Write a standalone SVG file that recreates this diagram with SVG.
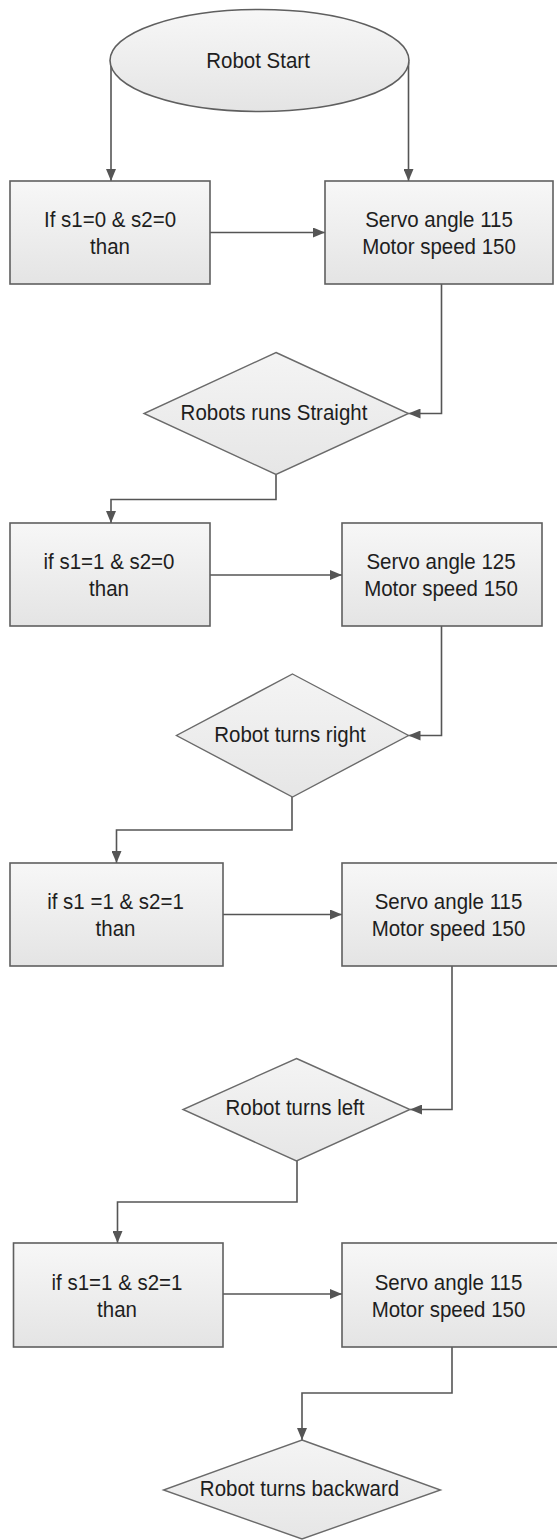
<svg xmlns="http://www.w3.org/2000/svg" width="557" height="1540" viewBox="0 0 557 1540">
<style>
.shape{stroke:#5f5f5f;stroke-width:1.6;fill:url(#g)}
.dia{stroke:#6a6a6a;stroke-width:1.4;fill:url(#gd)}
.t{font-family:"Liberation Sans",Arial,sans-serif;font-size:20.5px;fill:#1e1e1e;text-anchor:middle}
.c{fill:none;stroke:#555;stroke-width:1.6;marker-end:url(#ah)}
</style>
<defs>
<linearGradient id="g" x1="0" y1="0" x2="0" y2="1"><stop offset="0" stop-color="#f7f7f7"/><stop offset="1" stop-color="#e4e4e4"/></linearGradient>
<linearGradient id="gd" x1="0" y1="0" x2="0" y2="1"><stop offset="0" stop-color="#f4f4f4"/><stop offset="1" stop-color="#e6e6e6"/></linearGradient>
<marker id="ah" markerUnits="userSpaceOnUse" markerWidth="12" markerHeight="10" refX="12" refY="5" orient="auto"><path d="M0,0 L12,5 L0,10 z" fill="#555"/></marker>
</defs>
<rect width="557" height="1540" fill="#fff"/>
<g id="connectors">
<path class="c" d="M111,62 V181"/>
<path class="c" d="M408.5,62 V181"/>
<path class="c" d="M210,232.5 H325"/>
<path class="c" d="M441.5,284 V413.5 H408.5"/>
<path class="c" d="M276,474.5 V499.5 H111 V523"/>
<path class="c" d="M210,575 H342"/>
<path class="c" d="M441.5,626 V735.5 H408.5"/>
<path class="c" d="M292,797 V830 H116.5 V863"/>
<path class="c" d="M223,914.5 H342"/>
<path class="c" d="M452,966 V1109.5 H410"/>
<path class="c" d="M297,1161 V1202 H117.5 V1243"/>
<path class="c" d="M223,1294 H342"/>
<path class="c" d="M452,1347 V1393 H302 V1440"/>
</g>
<g id="start"><ellipse class="shape" cx="259.5" cy="60.5" rx="149.5" ry="51"/><text class="t" transform="translate(258,68) scale(1,1.12)">Robot Start</text></g>
<g id="cond1"><rect class="shape" x="10" y="181" width="200" height="103"/><text class="t" transform="translate(110,226.5) scale(1,1.12)">If s1=0 &amp; s2=0</text><text class="t" transform="translate(110,254) scale(1,1.12)">than</text></g>
<g id="act1"><rect class="shape" x="325" y="181" width="228" height="103"/><text class="t" transform="translate(439,226.5) scale(1,1.12)">Servo angle 115</text><text class="t" transform="translate(439,254) scale(1,1.12)">Motor speed 150</text></g>
<g id="dec1"><polygon class="dia" points="276,352.5 408.5,413.5 276,474.5 144,413.5"/><text class="t" transform="translate(274,419.5) scale(1,1.12)">Robots runs Straight</text></g>
<g id="cond2"><rect class="shape" x="10" y="523" width="200" height="103"/><text class="t" transform="translate(109,568.5) scale(1,1.12)">if s1=1 &amp; s2=0</text><text class="t" transform="translate(109,596) scale(1,1.12)">than</text></g>
<g id="act2"><rect class="shape" x="342" y="523" width="200" height="103"/><text class="t" transform="translate(441,568.5) scale(1,1.12)">Servo angle 125</text><text class="t" transform="translate(441,596) scale(1,1.12)">Motor speed 150</text></g>
<g id="dec2"><polygon class="dia" points="292.5,674 408.5,735.5 292.5,797 176.5,735.5"/><text class="t" transform="translate(290,741.5) scale(1,1.12)">Robot turns right</text></g>
<g id="cond3"><rect class="shape" x="10" y="863" width="213" height="103"/><text class="t" transform="translate(115.5,908.5) scale(1,1.12)">if s1 =1 &amp; s2=1</text><text class="t" transform="translate(115.5,936) scale(1,1.12)">than</text></g>
<g id="act3"><rect class="shape" x="342" y="863" width="230" height="103"/><text class="t" transform="translate(448.5,908.5) scale(1,1.12)">Servo angle 115</text><text class="t" transform="translate(448.5,936) scale(1,1.12)">Motor speed 150</text></g>
<g id="dec3"><polygon class="dia" points="296.5,1058.5 410,1109.5 296.5,1161 183,1109.5"/><text class="t" transform="translate(295,1114.5) scale(1,1.12)">Robot turns left</text></g>
<g id="cond4"><rect class="shape" x="13.5" y="1243" width="209.5" height="104"/><text class="t" transform="translate(117,1289.5) scale(1,1.12)">if s1=1 &amp; s2=1</text><text class="t" transform="translate(117,1317) scale(1,1.12)">than</text></g>
<g id="act4"><rect class="shape" x="342" y="1243" width="230" height="104"/><text class="t" transform="translate(448.5,1289.5) scale(1,1.12)">Servo angle 115</text><text class="t" transform="translate(448.5,1317) scale(1,1.12)">Motor speed 150</text></g>
<g id="dec4"><polygon class="dia" points="302,1440 440.5,1490 302,1539 163.5,1490"/><text class="t" transform="translate(299.5,1496) scale(1,1.12)">Robot turns backward</text></g>
</svg>
